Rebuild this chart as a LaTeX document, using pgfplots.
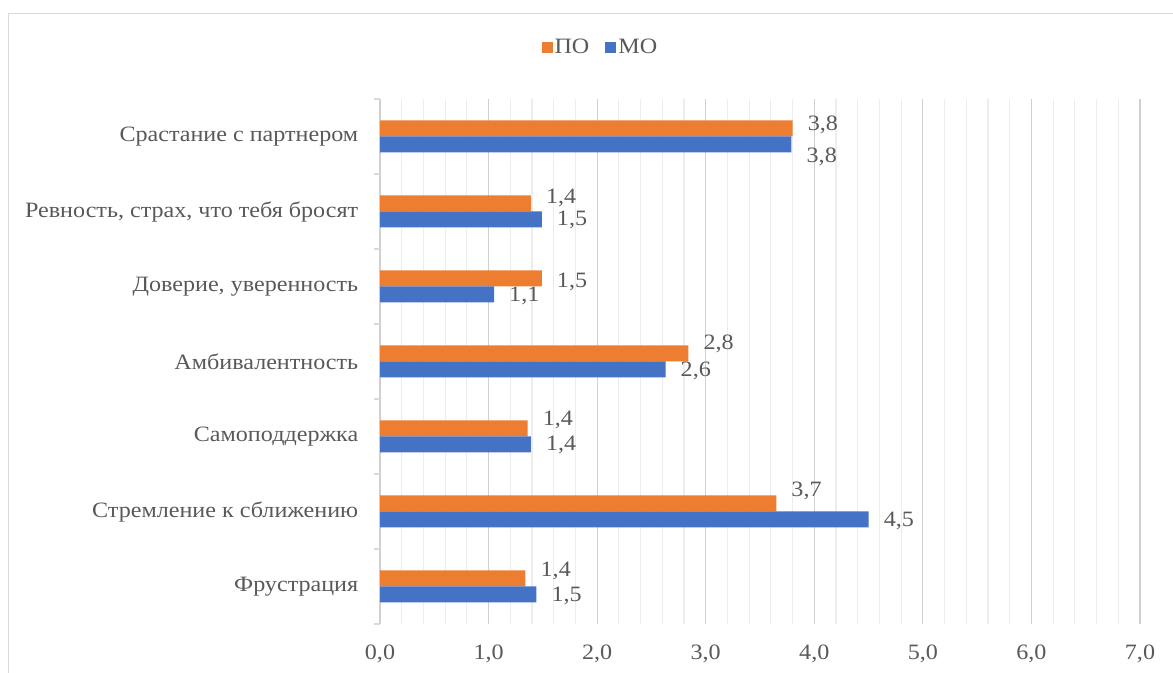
\documentclass[border=0pt]{standalone}
\usepackage{pgfplots}
\usepackage{pgfplotstable}
\pgfplotsset{compat=1.18}
\usepackage{fontspec}
\setmainfont{Liberation Serif}[FakeStretch=1.1]
\definecolor{cPO}{HTML}{ED7D31}
\definecolor{cMO}{HTML}{4472C4}
\definecolor{txt}{HTML}{595959}
\definecolor{gmaj}{HTML}{D0D0D0}
\definecolor{gmin}{HTML}{EDEDED}
\definecolor{frame}{HTML}{D9D9D9}

\pgfplotstableread{
y x lab dy
0 1.34 1,4 16
1 3.65 3,7 21
2 1.36 1,4 17
3 2.84 2,8 18
4 1.49 1,5 5
5 1.39 1,4 14
6 3.80 3,8 12
}\tPO
\pgfplotstableread{
y x lab dy
0 1.44 1,5 -9
1 4.50 4,5 -9
2 1.39 1,4 -8
3 2.63 2,6 -9
4 1.05 1,1 -9
5 1.49 1,5 -8
6 3.79 3,8 -20
}\tMO

\begin{document}
\begin{tikzpicture}[font=\fontsize{22}{26}\selectfont, text=txt]
\useasboundingbox (0,0) rectangle (1173bp,673bp);
\draw[frame, line width=1.2bp] (8.5bp,-10bp) -- (8.5bp,659.5bp) -- (1190bp,659.5bp);
\begin{axis}[
  at={(380bp,49bp)}, anchor=south west,
  scale only axis, width=760bp, height=525bp,
  xmin=0, xmax=7, ymin=-0.5, ymax=6.5,
  xbar=0pt, bar width=16bp,
  axis line style={draw=none},
  xtick={0,...,7},
  minor x tick num=4,
  xmajorgrids, xminorgrids,
  major x grid style={gmaj, line width=1.2bp},
  minor x grid style={gmin, line width=1.2bp},
  major x tick style={draw=none},
  minor x tick style={draw=none},
  xticklabel style={text=txt, yshift=-13bp},
  /pgf/number format/.cd, assume math mode=true, use comma, fixed, fixed zerofill, precision=1, /pgfplots/.cd,
  ytick={0,...,6},
  yticklabels={Фрустрация, Стремление к сближению, Самоподдержка, Амбивалентность, {Доверие, уверенность}, {Ревность, страх, что тебя бросят}, Срастание с партнером},
  major y tick style={draw=none},
  minor ytick={-0.5,0.5,...,6.5},
  minor y tick style={frame, line width=1.2bp},
  minor tick length=6bp,
  tick align=outside,
  ytick pos=left, xtick pos=bottom,
  yticklabel style={text=txt, xshift=-14bp},
  legend columns=2,
  legend style={draw=none, at={(0.290,1.099)}, anchor=center, font=\fontsize{22}{26}\selectfont, text=txt,
    /tikz/every even column/.append style={column sep=14bp}, inner sep=1bp},
  legend image code/.code={\fill[#1] (0bp,-5.5bp) rectangle (11bp,5.5bp);},
  nodes near coords,
  point meta=explicit symbolic,
  visualization depends on={\thisrow{dy} \as \labdy},
  every node near coord/.style={anchor=west, inner sep=0pt, xshift=15bp, yshift=\labdy bp, text=txt, font=\fontsize{22}{26}\selectfont},
]
\addplot[fill=cPO, draw=none, bar shift=8bp] table[x=x, y=y, meta=lab] {\tPO};
\addlegendentry{ПО}
\addplot[fill=cMO, draw=none, bar shift=-8bp] table[x=x, y=y, meta=lab] {\tMO};
\addlegendentry{МО}
\end{axis}
\end{tikzpicture}
\end{document}
